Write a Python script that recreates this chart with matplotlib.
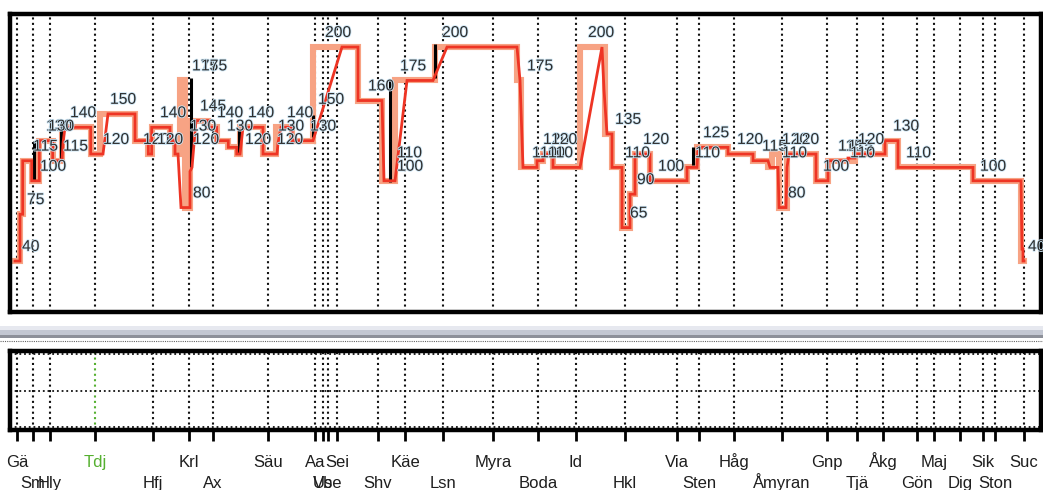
import matplotlib
matplotlib.use("Agg")
import matplotlib.pyplot as plt
import matplotlib.patheffects as pe
from matplotlib.patches import Rectangle
from matplotlib.lines import Line2D
from matplotlib.transforms import blended_transform_factory

# --- Stations (position along line, label row) ---
STATION_X = [17, 33, 50, 95, 153, 189, 213, 268, 315, 323, 328, 337, 378, 405,
             443, 493, 538, 576, 625, 677, 699, 734, 782, 827, 857, 883, 917,
             934, 960, 983, 995, 1024]
STATION_NAMES = ["Gä", "Sm", "Hly", "Tdj", "Hfj", "Krl", "Ax", "Säu", "Aa", "Vb",
                 "Use", "Sei", "Shv", "Käe", "Lsn", "Myra", "Boda", "Id", "Hkl",
                 "Via", "Sten", "Håg", "Åmyran", "Gnp", "Tjä", "Åkg", "Gön", "Maj",
                 "Dig", "Sik", "Ston", "Suc"]
STATION_ROW = [1, 2, 2, 1, 2, 1, 2, 1, 1, 2, 2, 1, 2, 1, 2, 1, 2, 1, 2, 1, 2, 1,
               2, 1, 2, 1, 2, 1, 2, 1, 2, 1]
HILITE_STATION = "Tdj"

# --- Static speed limit (step starts, km/h) ---
LIMIT_X = [15, 20, 22.7, 31.7, 39.3, 52.7, 62, 90.7, 100, 135, 148.3, 151.7, 170,
           175, 180, 185, 190, 208.3, 216.7, 228.3, 236.7, 240, 263, 276, 292,
           313, 358, 382, 395, 435, 517, 521, 537, 543, 553, 580, 605, 612, 622,
           630, 635, 650, 687, 697, 728, 753, 768, 772, 779, 787, 816, 828, 855,
           885, 898, 973, 1021, 1024]
LIMIT_V = [40, 75, 115, 100, 130, 115, 140, 120, 150, 130, 120, 140, 130, 120,
           175, 80, 145, 140, 130, 125, 120, 140, 120, 140, 130, 200, 160, 100,
           175, 200, 175, 110, 115, 120, 110, 200, 135, 110, 65, 90, 120, 100,
           110, 125, 120, 115, 110, 120, 80, 120, 100, 115, 120, 130, 110, 100,
           40, 40]

# --- Driven speed profile ---
DRIVE_X = [15, 20, 20, 22.7, 22.7, 31.7, 31.7, 39.3, 39.3, 52.7, 52.7, 62, 63, 65,
           90.7, 90.7, 103, 108, 135, 135, 148.3, 148.3, 151.7, 151.7, 170, 170,
           175, 175, 178, 181, 190, 190, 192, 196, 208.3, 208.3, 216.7, 216.7,
           228.3, 228.3, 236.7, 236.7, 240, 243, 263, 263, 277, 278, 281, 292,
           292, 313, 342, 358, 358, 382, 384, 395, 407, 433, 447, 517, 520, 523,
           537, 537, 543, 543, 553, 553, 580, 582, 602, 604, 607, 612, 612, 622,
           622, 630, 630, 635, 635, 650, 650, 687, 687, 697, 698, 728, 728, 753,
           753, 768, 770, 778, 779, 786, 787, 789, 816, 816, 828, 828, 848, 848,
           855, 855, 885, 885, 898, 898, 973, 973, 1021, 1022, 1023, 1023, 1024]
DRIVE_V = [40, 40, 75, 75, 115, 115, 100, 100, 130, 130, 115, 115, 128, 140,
           140, 120, 120, 150, 150, 130, 130, 120, 120, 140, 140, 130,
           130, 120, 120, 80, 80, 107, 110, 145, 145, 140, 140, 130,
           130, 125, 125, 120, 120, 140, 140, 120, 120, 128, 140, 140,
           130, 130, 200, 200, 160, 160, 100, 100, 175, 175, 200, 200, 175, 110,
           110, 115, 115, 120, 120, 110, 110, 118, 200, 168, 135, 135, 110, 110,
           65, 65, 90, 90, 120, 120, 100, 100, 110, 110, 125, 125, 120, 120,
           115, 115, 110, 110, 80, 80, 110, 120, 120, 100, 100, 115, 115, 117,
           117, 120, 120, 130, 130, 110, 110, 100, 100, 49, 49, 40, 40]

# --- Black marker bars ---
BAR_X = [34, 61, 191, 239, 313, 390, 435, 693]
BAR_LO = [100, 117, 110, 120, 133, 99, 177, 112]
BAR_HI = [130, 140, 177, 138, 149, 176, 202, 125]

# --- Speed labels (left x, speed) ---
LABEL_X = [22, 27, 40, 33, 46, 48, 63, 70, 110, 103, 143, 160, 157, 192, 201, 200,
           190, 193, 193, 217, 227, 248, 245, 278, 277, 287, 310, 318, 325, 368,
           400, 442, 397, 397, 527, 532, 543, 551, 540, 548, 588, 615, 625, 630,
           637, 643, 658, 695, 703, 737, 762, 782, 793, 782, 788, 823, 838, 848,
           858, 850, 893, 906, 980, 1028]
LABEL_V = [40, 75, 100, 115, 130, 130, 115, 140, 150, 120, 120, 140, 120, 175, 175,
           145, 130, 120, 80, 140, 130, 140, 120, 130, 120, 140, 130, 150, 200, 160,
           175, 200, 110, 100, 175, 110, 120, 120, 110, 110, 200, 135, 110, 65,
           90, 120, 100, 110, 125, 120, 115, 120, 120, 110, 80, 100, 115, 115,
           120, 110, 130, 110, 100, 40]

W, H = 1043, 490
fig = plt.figure(figsize=(W / 100, H / 100), dpi=100)
fig.patch.set_facecolor("white")

X0, X1 = 9.5, 1040.5


def fig_box(top_px, bottom_px):
    return [X0 / W, 1 - bottom_px / H, (X1 - X0) / W, (bottom_px - top_px) / H]


ax = fig.add_axes(fig_box(14, 312))
ax2 = fig.add_axes(fig_box(351, 430))

for a in (ax, ax2):
    a.set_xlim(X0, X1)
    for s in a.spines.values():
        s.set_linewidth(3.2)
        s.set_color("black")

# --- Top panel ---
ax.set_ylim(1.9, 224.7)
ax.set_xticks([])
ax.set_yticks([])
for x in STATION_X:
    ax.axvline(x, color="#111111", lw=1.5, ls=(0, (1, 1.6)), zorder=1)

ax.plot(LIMIT_X, LIMIT_V, drawstyle="steps-post", color="#f7a384", lw=4.4,
        solid_joinstyle="miter", zorder=2)
ax.vlines(BAR_X, BAR_LO, BAR_HI, color="black", lw=2.2, zorder=3)
ax.plot(DRIVE_X, DRIVE_V, color="#ee3424", lw=2.0, solid_joinstyle="miter",
        zorder=4)

halo = [pe.withStroke(linewidth=1.2, foreground="#cce6f6")]
for x, v in zip(LABEL_X, LABEL_V):
    ax.annotate(str(v), (x, v), xytext=(0, 10.5), textcoords="offset points",
                ha="left", va="center", fontsize=11.3, family="Liberation Sans",
                color="#2e2e2e", path_effects=halo, zorder=5)

# --- Separator band ---
for y0, y1, c in [(326, 330, "#e6e8ef"), (330, 335, "#c3c7d2"), (335, 338, "#8d9099")]:
    fig.add_artist(Rectangle((0, 1 - y1 / H), 1, (y1 - y0) / H,
                             transform=fig.transFigure, facecolor=c,
                             edgecolor="none"))
fig.add_artist(Line2D([0, 1], [1 - 340.5 / H] * 2, transform=fig.transFigure,
                      color="#666666", lw=0.8, ls=(0, (1, 1))))

# --- Bottom panel ---
ax2.set_ylim(0, 1)
ax2.set_yticks([])
for x, name in zip(STATION_X, STATION_NAMES):
    c = "#55b030" if name == HILITE_STATION else "#111111"
    ax2.axvline(x, color=c, lw=1.5, ls=(0, (1, 1.6)), zorder=1)
for y in (0.04, 0.5, 0.96):
    ax2.axhline(y, color="#111111", lw=1.3, ls=(0, (1, 1.6)), zorder=1)

ax2.set_xticks(STATION_X)
ax2.set_xticklabels([])
ax2.tick_params(axis="x", direction="out", length=8, width=2, color="black")
for tick, name in zip(ax2.xaxis.get_major_ticks(), STATION_NAMES):
    if name == HILITE_STATION:
        tick.tick1line.set_color("#55b030")

trans = blended_transform_factory(ax2.transData, ax2.transAxes)
row_y = {1: -0.465, 2: -0.74}
for x, name, row in zip(STATION_X, STATION_NAMES, STATION_ROW):
    c = "#55b030" if name == HILITE_STATION else "#1e1e1e"
    ax2.text(x, row_y[row], name, transform=trans, ha="center", va="baseline",
             fontsize=12, family="Liberation Sans", color=c, clip_on=False)

fig.savefig("out.png", dpi=100, facecolor="white")
